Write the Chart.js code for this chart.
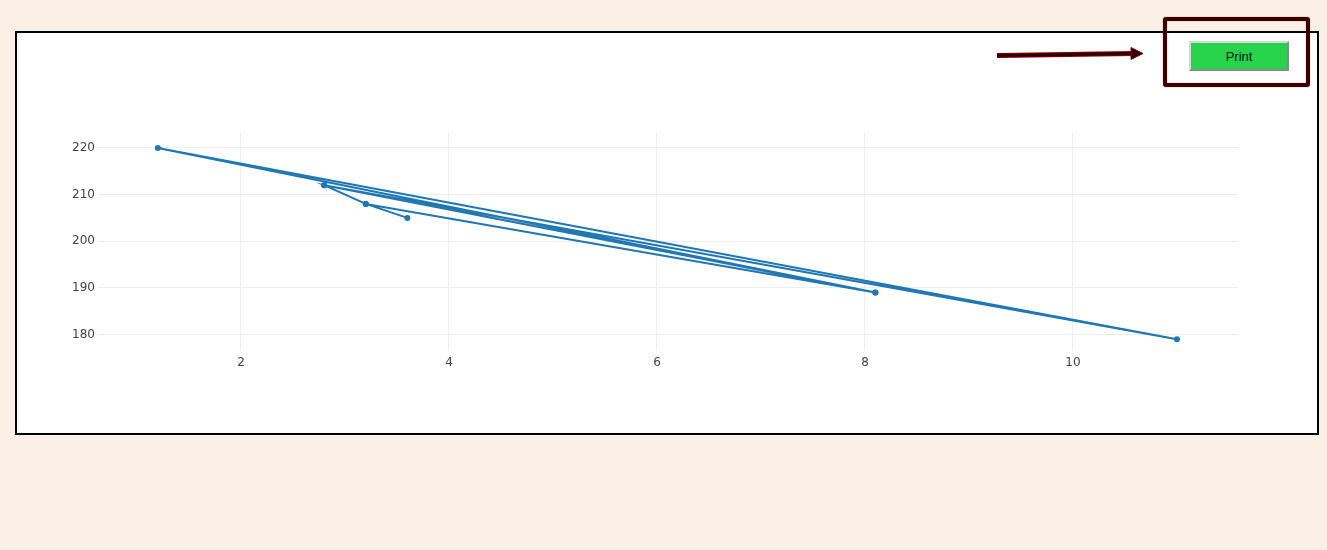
<!DOCTYPE html>
<html>
<head>
<meta charset="utf-8">
<script src="https://cdn.jsdelivr.net/npm/chart.js@4/dist/chart.umd.min.js"></script>
<style>
  html, body { margin: 0; padding: 0; background: #faf0e6; width: 1327px; height: 550px; overflow: hidden; }
  #frame { position: absolute; left: 15px; top: 31px; width: 1300px; height: 400px; border: 2px solid #000; background: #fff; }
  #chart { position: absolute; left: 0; top: 0; }
  #hl { position: absolute; left: 1163px; top: 17px; width: 139px; height: 62px; border: 4px solid #3a0000; border-radius: 3px; box-shadow: 0 0 1px #a00000, inset 0 0 1px #a00000; }
  #print { position: absolute; left: 1189px; top: 41px; width: 100px; height: 30px; box-sizing: border-box; background: #26d34a; border: 2px solid; border-color: #d8d8d8 #8a8a8a #8a8a8a #d8d8d8; font: 13px Arial, "Liberation Sans", sans-serif; color: #111; text-align: center; line-height: 28px; z-index: 5; }
  #arrow { position: absolute; left: 0; top: 0; z-index: 4; }
</style>
</head>
<body>
<div id="frame"></div>
<canvas id="chart" width="1327" height="550"></canvas>
<div id="hl"></div>
<div id="print">Print</div>
<svg id="arrow" width="1327" height="550">
  <line x1="997" y1="55.5" x2="1133" y2="53.5" stroke="#8b0000" stroke-width="5"/>
  <line x1="997" y1="55.5" x2="1133" y2="53.5" stroke="#2a0000" stroke-width="3"/>
  <polygon points="1131,47.5 1143,53.5 1131,59.5" fill="#2a0000" stroke="#8b0000" stroke-width="1"/>
</svg>
<script>
const xValues = [3.6, 3.2, 2.8, 8.1, 1.2, 11, 2.8, 8.1, 3.2];
const yValues = [205, 208, 212, 189, 220, 179, 212, 189, 208];
const xTicks = [2, 4, 6, 8, 10];
const yTicks = [180, 190, 200, 210, 220];

const points = xValues.map((x, i) => ({ x: x, y: yValues[i] }));
const tickFont = { family: '"DejaVu Sans", Verdana, sans-serif', size: 12 };

new Chart(document.getElementById('chart'), {
  type: 'scatter',
  data: {
    datasets: [{
      data: points,
      showLine: true,
      borderColor: '#1f77b4',
      backgroundColor: '#1f77b4',
      borderWidth: 2,
      pointRadius: 3,
      pointHoverRadius: 3,
      pointBorderWidth: 0,
      tension: 0
    }]
  },
  options: {
    responsive: false,
    animation: false,
    layout: { padding: { left: 38, right: 89, top: 133, bottom: 149 } },
    plugins: { legend: { display: false }, tooltip: { enabled: false } },
    scales: {
      x: {
        type: 'linear',
        min: 0.625,
        max: 11.587,
        afterBuildTicks: s => { s.ticks = xTicks.map(v => ({ value: v })); },
        afterFit: s => { s.height = 50; },
        grid: { color: '#eeeeee', lineWidth: 1, drawTicks: false },
        border: { display: false },
        ticks: { color: '#444', font: tickFont, padding: 5, maxRotation: 0 }
      },
      y: {
        type: 'linear',
        min: 176.46,
        max: 223.2,
        afterBuildTicks: s => { s.ticks = yTicks.map(v => ({ value: v })); },
        afterFit: s => { s.width = 60; },
        grid: { color: '#eeeeee', lineWidth: 1, drawTicks: false },
        border: { display: false },
        ticks: { color: '#444', font: tickFont, padding: 3 }
      }
    }
  }
});
</script>
</body>
</html>
